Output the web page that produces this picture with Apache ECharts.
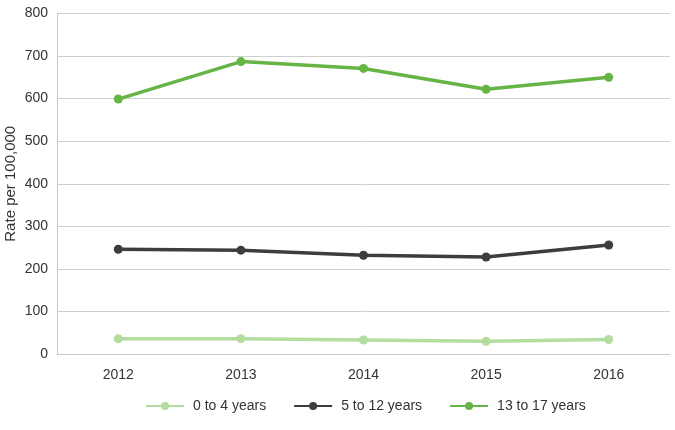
<!DOCTYPE html>
<html>
<head>
<meta charset="utf-8">
<script src="https://cdn.jsdelivr.net/npm/echarts@6/dist/echarts.min.js"></script>
<style>html,body{margin:0;padding:0;background:#fff}#c{width:675px;height:430px}</style>
</head>
<body>
<div id="c"></div>
<script>
const years = ['2012', '2013', '2014', '2015', '2016'];
const age0to4 = [36, 36, 33, 30, 34];
const age5to12 = [246, 244, 232, 228, 256];
const age13to17 = [599, 687, 671, 622, 650];
const yTicks = [0, 100, 200, 300, 400, 500, 600, 700, 800];

const font = 'Liberation Sans, Arial, sans-serif';
function mk(name, data, color) {
  return {
    name, type: 'line', data,
    symbol: 'circle', symbolSize: 9,
    lineStyle: { width: 3.5, color },
    itemStyle: { color },
    emphasis: { disabled: true }
  };
}
const chart = echarts.init(document.getElementById('c'), null, { renderer: 'canvas' });
chart.setOption({
  animation: false,
  textStyle: { fontFamily: font },
  grid: { left: 57, right: 5, top: 13.5, bottom: 76, containLabel: false, outerBoundsMode: 'none' },
  legend: {
    bottom: 12, left: 140,
    itemWidth: 38, itemHeight: 10, itemGap: 27,
    textStyle: { fontFamily: font, fontSize: 14, color: '#333', padding: [0, 0, 0, 4] },
    data: ['0 to 4 years', '5 to 12 years', '13 to 17 years']
  },
  xAxis: {
    type: 'category', data: years, boundaryGap: true,
    axisLine: { lineStyle: { color: '#c8c8c8', width: 1 } },
    axisTick: { alignWithLabel: true, inside: true, length: 9, lineStyle: { color: '#b0b0b0' } },
    axisLabel: { fontFamily: font, fontSize: 14, color: '#333', margin: 14 },
    splitLine: { show: false }
  },
  yAxis: {
    type: 'value', min: yTicks[0], max: yTicks[yTicks.length - 1], interval: 100,
    name: 'Rate per 100,000', nameLocation: 'middle', nameGap: 39, nameRotate: 90,
    nameMoveOverlap: false,
    nameTextStyle: { fontFamily: font, fontSize: 15, color: '#333' },
    axisLine: { show: true, lineStyle: { color: '#c8c8c8' } },
    axisTick: { show: false },
    axisLabel: { fontFamily: font, fontSize: 14, color: '#333', margin: 9 },
    splitLine: { lineStyle: { color: '#cfcfcf', width: 1 } }
  },
  series: [
    mk('0 to 4 years', age0to4, '#b3dc9f'),
    mk('5 to 12 years', age5to12, '#3d3d3d'),
    mk('13 to 17 years', age13to17, '#66b445')
  ]
});
</script>
</body>
</html>
